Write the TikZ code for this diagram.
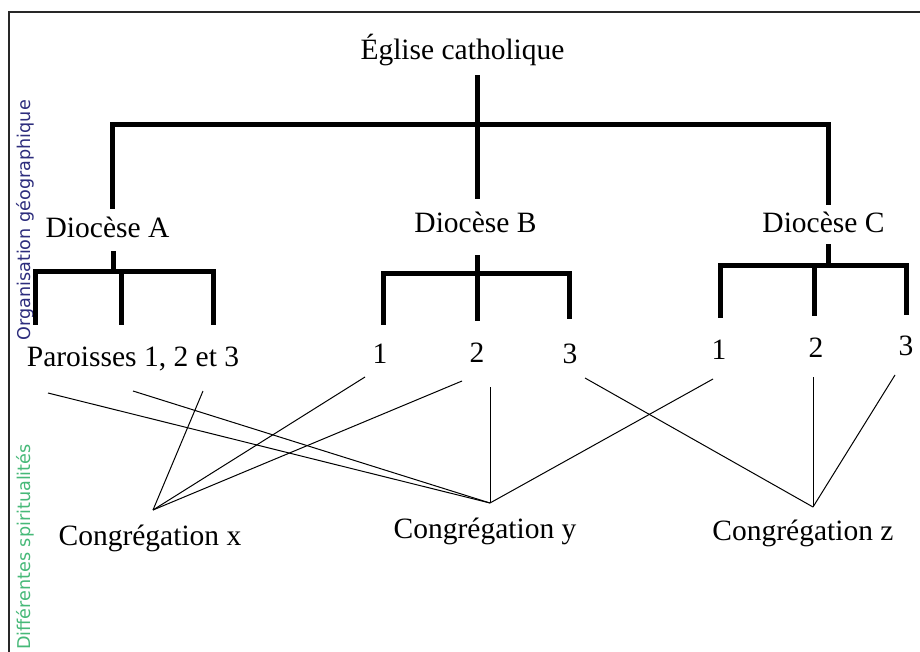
\documentclass[tikz,border=0pt]{standalone}
\usepackage{fontspec}
\setmainfont{Liberation Serif}
\newfontfamily\sidefont{DejaVu Sans}
\definecolor{sideblue}{RGB}{45,45,125}
\definecolor{sidegreen}{RGB}{70,185,120}
\definecolor{framegray}{RGB}{40,40,40}
\begin{document}
\begin{tikzpicture}[x=1pt,y=-1pt,
  lbl/.style={inner sep=0pt,anchor=base,font=\fontsize{29.5}{34}\selectfont},
  side/.style={inner sep=0pt,anchor=east,rotate=90,font=\sidefont\fontsize{17.6}{20}\selectfont},
  thick line/.style={line width=5pt,line cap=rect,line join=miter},
  thin line/.style={line width=1pt},
  frameline/.style={line width=1.2pt,draw=framegray}]
\useasboundingbox (0,0) rectangle (920,652);
\fill[white] (0,0) rectangle (920,652);
% frame
\coordinate (ftl) at (9,12);
\coordinate (ftr) at (920,12);
\coordinate (fbl) at (9,652);
\draw[frameline] (ftr) -- (ftl) -- (fbl);
% side labels
\node[side,text=sideblue] (orga) at (25,100) {Organisation géographique};
\node[side,text=sidegreen] (spir) at (25,444) {Différentes spiritualités};
% texts
\node[lbl] (eglise) at (462.5,60) {Église catholique};
\node[lbl] (dioA) at (107.5,238) {Diocèse A};
\node[lbl] (dioB) at (475.5,233) {Diocèse B};
\node[lbl] (dioC) at (823.5,233) {Diocèse C};
\node[lbl] (par) at (133,366) {Paroisses 1, 2 et 3};
\node[lbl] (b1) at (380,363) {1};
\node[lbl] (b2) at (477,362) {2};
\node[lbl] (b3) at (570,363) {3};
\node[lbl] (c1) at (719,359) {1};
\node[lbl] (c2) at (816,357) {2};
\node[lbl] (c3) at (906,355) {3};
\node[lbl] (cx) at (150,545) {Congrégation x};
\node[lbl] (cy) at (485,538) {Congrégation y};
\node[lbl] (cz) at (803,540) {Congrégation z};
% thick tree: top level
\coordinate (eTop) at (477,78);
\coordinate (eBot) at (477,197);
\coordinate (topA) at (112,207);
\coordinate (topBar) at (477,125);
\coordinate (topC) at (828,203);
\draw[thick line] (eTop) -- (eBot);
\draw[thick line] (topA) |- (topBar) -| (topC);
% diocese A
\coordinate (aS) at (113,253);
\coordinate (aJ) at (113,271);
\coordinate (aL) at (35,322);
\coordinate (aM) at (121,322);
\coordinate (aR) at (213,322);
\coordinate (aMt) at (121,271);
\draw[thick line] (aS) -- (aJ);
\draw[thick line] (aL) |- (aJ) -| (aR);
\draw[thick line] (aMt) -- (aM);
% diocese B
\coordinate (bS) at (477,257);
\coordinate (bJ) at (477,273);
\coordinate (bL) at (383,322);
\coordinate (bM) at (477,318);
\coordinate (bR) at (569,316);
\draw[thick line] (bS) -- (bM);
\draw[thick line] (bL) |- (bJ) -| (bR);
% diocese C
\coordinate (cS) at (828,247);
\coordinate (cJ) at (828,265);
\coordinate (cL) at (720,315);
\coordinate (cMt) at (814,265);
\coordinate (cM) at (814,313);
\coordinate (cR) at (906,312);
\draw[thick line] (cS) -- (cJ);
\draw[thick line] (cL) |- (cJ) -| (cR);
\draw[thick line] (cMt) -- (cM);
% thin connectors
\coordinate (X) at (153,510);
\coordinate (Y) at (490,503);
\coordinate (Z) at (813,507);
\coordinate (p1) at (48,393);
\coordinate (p2) at (133,391);
\coordinate (p3) at (203,391);
\coordinate (qb1) at (365,377);
\coordinate (qb2) at (462,381);
\coordinate (qb2v) at (490,387);
\coordinate (qb3) at (585,378);
\coordinate (qc1) at (713,379);
\coordinate (qc2) at (813,377);
\coordinate (qc3) at (895,375);
\draw[thin line] (p3) -- (X);
\draw[thin line] (qb1) -- (X);
\draw[thin line] (qb2) -- (X);
\draw[thin line] (p1) -- (Y);
\draw[thin line] (p2) -- (Y);
\draw[thin line] (qb2v) -- (Y);
\draw[thin line] (qc1) -- (Y);
\draw[thin line] (qb3) -- (Z);
\draw[thin line] (qc2) -- (Z);
\draw[thin line] (qc3) -- (Z);
\end{tikzpicture}
\end{document}
